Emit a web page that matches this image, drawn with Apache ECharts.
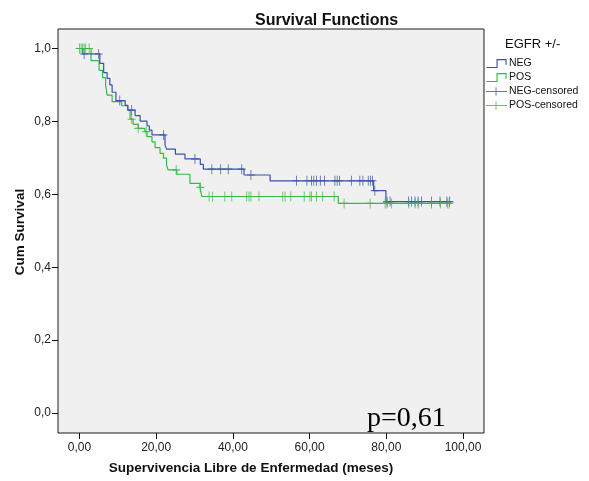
<!DOCTYPE html>
<html>
<head>
<meta charset="utf-8">
<script src="https://cdn.jsdelivr.net/npm/echarts@6/dist/echarts.min.js"></script>
<style>html,body{margin:0;padding:0;background:#fff;}#c{width:589px;height:481px;}</style>
</head>
<body>
<div id="c"></div>
<script>
// ---- data ----
var xTicks = [0, 20, 40, 60, 80, 100];
var yTicks = [0, 0.2, 0.4, 0.6, 0.8, 1.0];

// NEG: step times and survival after each step
var negTimes = [0, 0.8, 5.3, 6.3, 7.2, 7.9, 8.5, 9.5, 11.9, 12.6, 14.5, 15.8, 17.6, 18.2, 18.9, 22.3, 22.7, 25.0, 27.5, 31.5, 32.3, 42.9, 49.7, 76.7, 79.9, 97.0];
var negSurv  = [1.0, 0.985, 0.959, 0.934, 0.918, 0.900, 0.880, 0.857, 0.844, 0.831, 0.816, 0.801, 0.788, 0.776, 0.763, 0.735, 0.724, 0.710, 0.697, 0.682, 0.669, 0.653, 0.637, 0.610, 0.580, 0.580];
var negCensored = [1.2, 5.0, 10.5, 13.6, 21.9, 30.1, 34.5, 36.8, 38.8, 42.3, 44.7, 56.6, 59.3, 60.5, 61.1, 61.8, 62.8, 63.9, 66.6, 67.2, 67.8, 70.9, 73.1, 73.9, 75.3, 75.9, 76.4, 77.0, 80.2, 81.0, 85.8, 86.6, 87.5, 88.3, 89.2, 91.8, 94.0, 95.8, 96.5];

// POS
var posTimes = [0, 3.0, 5.1, 6.0, 6.8, 7.2, 8.5, 11.0, 12.6, 13.2, 14.0, 15.3, 17.0, 17.6, 18.9, 19.7, 21.0, 21.9, 22.7, 23.1, 25.4, 28.8, 31.4, 31.9, 67.5, 97.0];
var posSurv  = [1.0, 0.967, 0.940, 0.920, 0.900, 0.872, 0.854, 0.843, 0.831, 0.806, 0.792, 0.781, 0.772, 0.758, 0.744, 0.728, 0.712, 0.699, 0.680, 0.667, 0.655, 0.630, 0.619, 0.594, 0.575, 0.575];
var posCensored = [0, 0.4, 0.8, 1.2, 1.6, 2.5, 13.6, 15.3, 17.4, 25.2, 31.5, 33.8, 34.7, 37.9, 39.7, 43.6, 44.2, 44.7, 46.8, 53.0, 53.6, 55.1, 58.6, 60.1, 60.5, 61.8, 63.4, 66.4, 69.0, 75.8, 79.7, 80.2, 81.4, 85.9, 87.5, 88.3, 91.8, 94.1, 95.9, 96.4];

// ---- build ----
function pairs(t, s) { return t.map(function (v, i) { return [v, s[i]]; }); }
function survAt(t, s, x) { var v = s[0]; for (var i = 0; i < t.length; i++) { if (t[i] <= x) v = s[i]; } return v; }
function cens(times, t, s) { return times.map(function (x) { return [x, survAt(t, s, x)]; }); }

var BLUE = '#3b51ad', GREEN = '#38b846';
var plus = 'path://M4,0H5V4H9V5H5V9H4V5H0V4H4Z';
var stepIcon = 'path://M0,7H9V0H18V5H17V1H10V8H0Z';
var plusIcon = 'path://M0,4H10V0H11V4H22V5H11V9H10V5H0Z';
var FONT = 'Liberation Sans, Arial';

var chart = echarts.init(document.getElementById('c'), null, { renderer: 'canvas' });
chart.setOption({
  animation: false,
  backgroundColor: '#ffffff',
  title: {
    text: 'Survival Functions', left: 250, top: 8,
    textStyle: { fontFamily: FONT, fontSize: 16, fontWeight: 'bold', color: '#111' }
  },
  legend: {
    orient: 'vertical', left: 486, top: 58, itemWidth: 21, itemHeight: 9, itemGap: 3, padding: 0,
    textStyle: { fontFamily: FONT, fontSize: 10.5, color: '#111', padding: [0, 0, 0, -3] },
    data: [
      { name: 'NEG', icon: stepIcon },
      { name: 'POS', icon: stepIcon },
      { name: 'NEG-censored', icon: plusIcon },
      { name: 'POS-censored', icon: plusIcon }
    ]
  },
  grid: { left: 58, top: 29, width: 426, height: 404, show: true, backgroundColor: '#f0f0f0', borderColor: '#1a1a1a', borderWidth: 1 },
  xAxis: {
    type: 'value', min: -5.61, max: 105.48,
    axisLine: { show: false, onZero: false }, splitLine: { show: false },
    axisTick: { show: true, length: 6, customValues: xTicks, lineStyle: { color: '#111' } },
    axisLabel: { margin: 9, customValues: xTicks, fontFamily: FONT, fontSize: 12, color: '#222',
      formatter: function (v) { return v.toFixed(2).replace('.', ','); } }
  },
  yAxis: {
    type: 'value', min: -0.0549, max: 1.0535,
    axisLine: { show: false, onZero: false }, splitLine: { show: false },
    axisTick: { show: true, length: 6, customValues: yTicks, lineStyle: { color: '#111' } },
    axisLabel: { margin: 7, customValues: yTicks, fontFamily: FONT, fontSize: 12, color: '#222',
      formatter: function (v) { return v.toFixed(1).replace('.', ','); } }
  },
  graphic: [
    { type: 'text', left: 505, top: 38, style: { text: 'EGFR +/-', font: '13px "Liberation Sans", Arial', fill: '#111' } },
    { type: 'text', x: 20, y: 232, rotation: Math.PI / 2, style: { text: 'Cum Survival', font: 'bold 13.5px "Liberation Sans", Arial', fill: '#111', align: 'center', verticalAlign: 'middle' } },
    { type: 'text', x: 251, y: 468, style: { text: 'Supervivencia Libre de Enfermedad (meses)', font: 'bold 13.5px "Liberation Sans", Arial', fill: '#111', align: 'center', verticalAlign: 'middle' } },
    { type: 'text', x: 367, y: 419, z: 100, style: { text: 'p=0,61', font: '28px "Liberation Serif", "Times New Roman", serif', fill: '#000', align: 'left', verticalAlign: 'middle' } }
  ],
  series: [
    { name: 'NEG', type: 'line', step: 'end', symbol: 'none', data: pairs(negTimes, negSurv),
      color: BLUE, lineStyle: { color: BLUE, width: 1.2 }, z: 3 },
    { name: 'POS', type: 'line', step: 'end', symbol: 'none', data: pairs(posTimes, posSurv),
      color: GREEN, lineStyle: { color: GREEN, width: 1.2 }, z: 2 },
    { name: 'NEG-censored', type: 'scatter', symbol: plus, symbolSize: [8, 10],
      data: cens(negCensored, negTimes, negSurv), color: BLUE, itemStyle: { color: BLUE }, z: 4 },
    { name: 'POS-censored', type: 'scatter', symbol: plus, symbolSize: [8, 10],
      data: cens(posCensored, posTimes, posSurv), color: GREEN, itemStyle: { color: GREEN }, z: 5 }
  ]
});
</script>
</body>
</html>
